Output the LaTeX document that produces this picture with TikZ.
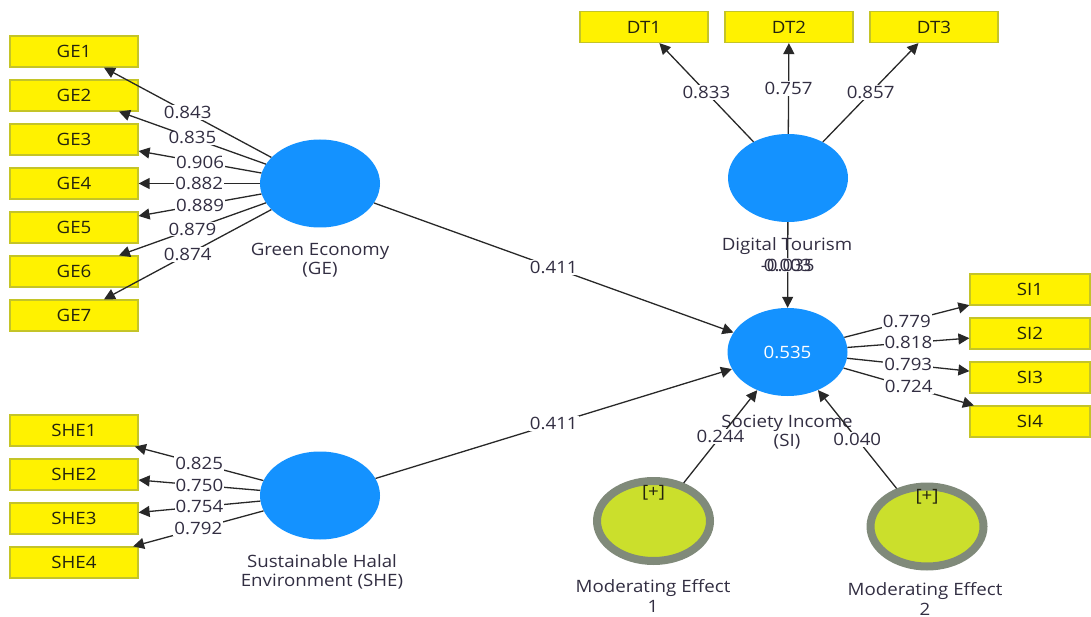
\documentclass[tikz,border=0pt]{standalone}
\usepackage{fontspec}
\setmainfont{Open Sans}[FakeStretch=1.1]
\usetikzlibrary{shapes.geometric,arrows.meta,calc}
\definecolor{lvblue}{RGB}{20,146,255}
\definecolor{boxedge}{RGB}{196,196,40}
\definecolor{indtext}{RGB}{35,35,15}
\definecolor{lbltext}{RGB}{50,46,66}
\definecolor{linecol}{RGB}{40,40,40}
\definecolor{mefill}{RGB}{203,223,44}
\definecolor{mering}{RGB}{128,138,122}
\newcommand{\numsz}{\fontsize{17}{19}\selectfont}
\newcommand{\namesz}{\fontsize{17}{19.5}\selectfont}
\begin{document}
\begin{tikzpicture}[x=1pt,y=-1pt,
  ind/.style={draw=boxedge, fill=yellow, line width=1.2pt, minimum width=128pt,
    minimum height=31pt, inner sep=0pt, font=\numsz, text=indtext},
  indsi/.style={ind, minimum width=120pt},
  lv/.style={ellipse, fill=lvblue, minimum width=120pt, minimum height=88pt, inner sep=0pt},
  me/.style={ellipse, fill=mefill, draw=mering, line width=8pt, minimum width=113pt,
    minimum height=80pt, inner sep=0pt},
  lvname/.style={font=\namesz, text=lbltext, align=center, inner sep=0pt},
  lbl/.style={fill=white, font=\numsz, text=lbltext, inner sep=1pt},
  arr/.style={draw=linecol, line width=1.3pt, -{Triangle[length=11pt,width=11pt]}}]
\useasboundingbox (0,0) rectangle (1091,617);

% latent variables
\node[lv] (GE) at (320,183.5) {};
\node[lv] (SHE) at (320,495.5) {};
\node[lv] (DT) at (788,178) {};
\node[lv, text=white, font=\numsz] (SI) at (787.5,352) {0.535};
\node[me] (ME1) at (653.5,521) {};
\node[me] (ME2) at (927,526.5) {};
\node[font=\numsz, text=indtext, inner sep=0pt] (ME1p) at (653.5,493) {[+]};
\node[font=\numsz, text=indtext, inner sep=0pt] (ME2p) at (927,497) {[+]};

% names
\node[lvname] (GEn) at (320,260) {Green Economy\\(GE)};
\node[lvname] (SHEn) at (322,572) {Sustainable Halal\\Environment (SHE)};
\node[lvname] (SIn) at (787,432) {Society Income\\(SI)};
\node[lvname] (ME1n) at (653,596) {Moderating Effect\\1};
\node[lvname] (ME2n) at (925,599) {Moderating Effect\\2};

% indicators
\foreach \i/\y in {1/51.5,2/95.5,3/139.5,4/183.5,5/227.5,6/271.5,7/315.5}
  \node[ind] (GE\i) at (74,\y) {GE\i};
\foreach \i/\y in {1/430.5,2/474.5,3/518.5,4/562.5}
  \node[ind] (SHE\i) at (74,\y) {SHE\i};
\foreach \i/\x in {1/644,2/789,3/934}
  \node[ind] (DT\i) at (\x,27) {DT\i};
\foreach \i/\y in {1/289.5,2/333.5,3/377.5,4/421.5}
  \node[indsi] (SI\i) at (1030,\y) {SI\i};

% outer loadings
\draw[arr] (GE) -- node[lbl]{0.843} (GE1);
\draw[arr] (GE) -- node[lbl]{0.835} (GE2);
\draw[arr] (GE) -- node[lbl]{0.906} (GE3);
\draw[arr] (GE) -- node[lbl]{0.882} (GE4);
\draw[arr] (GE) -- node[lbl]{0.889} (GE5);
\draw[arr] (GE) -- node[lbl]{0.879} (GE6);
\draw[arr] (GE) -- node[lbl]{0.874} (GE7);

\draw[arr] (SHE) -- node[lbl]{0.825} (SHE1);
\draw[arr] (SHE) -- node[lbl]{0.750} (SHE2);
\draw[arr] (SHE) -- node[lbl]{0.754} (SHE3);
\draw[arr] (SHE) -- node[lbl]{0.792} (SHE4);

\draw[arr] (DT) -- node[lbl]{0.833} (DT1);
\draw[arr] (DT) -- node[lbl]{0.757} (DT2);
\draw[arr] (DT) -- node[lbl]{0.857} (DT3);

\draw[arr] (SI) -- node[lbl]{0.779} (SI1);
\draw[arr] (SI) -- node[lbl]{0.818} (SI2);
\draw[arr] (SI) -- node[lbl]{0.793} (SI3);
\draw[arr] (SI) -- node[lbl]{0.724} (SI4);

% structural paths
\draw[arr] (GE) -- node[lbl]{0.411} (SI);
\draw[arr] (SHE) -- node[lbl]{0.411} (SI);
\draw[arr] (DT) -- node[lbl] (dtsi) {-0.035} (SI);
\node[font=\numsz, text=lbltext, inner sep=0pt] (dtsi2) at (dtsi) {0.003};
\draw[arr] (ME1) -- node[lbl]{0.244} (SI);
\draw[arr] (ME2) -- node[lbl]{0.040} (SI);

% DT name over the path line
\node[lvname] (DTn) at (787,246) {Digital Tourism};
\end{tikzpicture}
\end{document}
